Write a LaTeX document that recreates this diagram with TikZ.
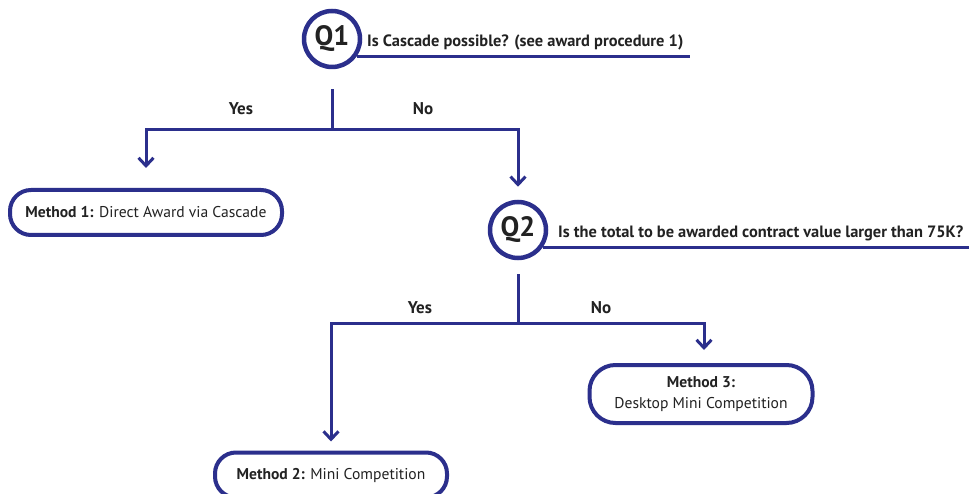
\documentclass[tikz,border=0pt]{standalone}
\usepackage{fontspec}
\setmainfont{PT Sans}
\usetikzlibrary{arrows.meta}
\definecolor{navy}{RGB}{43,47,140}
\definecolor{ink}{RGB}{34,34,34}
\begin{document}
\begin{tikzpicture}[x=1pt,y=-1pt,
  conn/.style={navy, line width=3pt},
  arr/.style={conn, -{Straight Barb[length=8pt,width=15pt,line width=3pt]}},
  qcirc/.style={circle, draw=navy, line width=4.5pt, minimum size=56pt, inner sep=0pt, text=ink, font=\fontsize{28}{30}\selectfont\bfseries},
  qtext/.style={anchor=base west, inner sep=0pt, text=ink, font=\fontsize{16.4}{19}\selectfont\bfseries},
  lab/.style={text=ink, inner sep=0pt, font=\fontsize{17}{20}\selectfont\bfseries},
  method/.style={draw=navy, line width=4pt, rounded corners=21pt, text=ink, align=center, inner sep=0pt, font=\fontsize{15.6}{21}\selectfont}
]
\useasboundingbox (0,0) rectangle (969,494);
\fill[white] (0,0) rectangle (969,494);

% Q1
\node[qcirc] (q1) at (332,39) {Q1};
\node[qtext] (q1t) at (367,47) {Is Cascade possible? (see award procedure 1)};
\coordinate (q1e) at (690,55);
\draw[conn] (q1.-35) -- (q1.-35 -| q1e);

% Q2
\node[qcirc] (q2) at (518,230) {Q2};
\node[qtext] (q2t) at (558,238) {Is the total to be awarded contract value larger than 75K?};
\coordinate (q2e) at (969,246);
\draw[conn] (q2.-35) -- (q2.-35 -| q2e);

% methods
\node[method, minimum width=272pt, minimum height=45pt] (m1) at (146,212.5) {\textbf{Method 1:} Direct Award via Cascade};
\node[method, minimum width=232pt, minimum height=45pt] (m2) at (331,475) {\textbf{Method 2:} Mini Competition};
\node[method, minimum width=223pt, minimum height=58pt, rounded corners=26pt] (m3) at (701,394) {\textbf{Method 3:}\\Desktop Mini Competition};

% junctions
\coordinate (j1) at (332,130);
\coordinate (j2) at (518,323);

\draw[conn] ([yshift=-20pt]q1.south) -- (j1);
\draw[arr, shorten >=20pt] (j1) -| (m1.north);
\draw[arr, shorten >=13pt] (j1) -| (q2.north);

\draw[conn] ([yshift=-14pt]q2.south) -- (j2);
\draw[arr, shorten >=9pt] (j2) -| (m2.north);
\draw[arr, shorten >=13pt] (j2) -| ([xshift=3pt]m3.north);

% labels
\node[lab] (y1) at (241,109) {Yes};
\node[lab] (n1) at (423,109) {No};
\node[lab] (y2) at (420,308) {Yes};
\node[lab] (n2) at (601,308) {No};
\end{tikzpicture}
\end{document}
